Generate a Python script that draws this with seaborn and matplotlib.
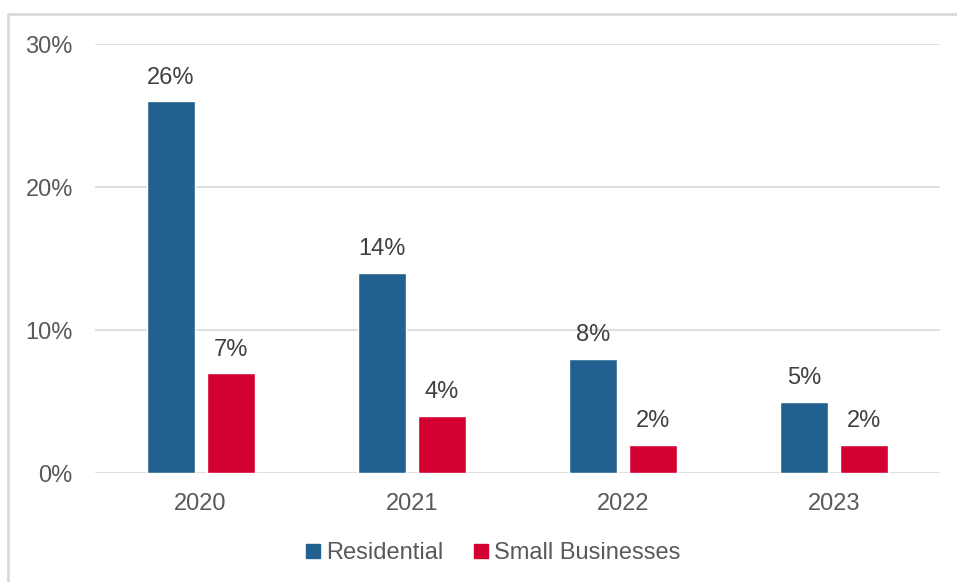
import pandas as pd
import matplotlib
matplotlib.use('Agg')
import matplotlib.pyplot as plt
import seaborn as sns
from matplotlib.lines import Line2D

years = ['2020', '2021', '2022', '2023']
residential = [26, 14, 8, 5]
small_business = [7, 4, 2, 2]
series = ['Residential', 'Small Businesses']
colors = ['#21608F', '#D50032']

df = pd.DataFrame({
    'year': years * 2,
    'value': residential + small_business,
    'series': [series[0]] * 4 + [series[1]] * 4,
})

sns.set_style('white')
plt.rcParams['font.family'] = ['Liberation Sans', 'DejaVu Sans']

fig = plt.figure(figsize=(9.57, 5.82), dpi=100)
ax = fig.add_axes([0.0993, 0.187, 0.8827, 0.737])

sns.barplot(data=df, x='year', y='value', hue='series', palette=colors,
            width=0.568, gap=0.2, ax=ax, legend=False, saturation=1)

for cont in ax.containers:
    ax.bar_label(cont, labels=[f'{v:.0f}%' for v in cont.datavalues],
                 padding=9, fontsize=17, color='#404040')

ax.set_ylim(0, 30)
ax.set_yticks([0, 10, 20, 30])
ax.set_yticklabels(['0%', '10%', '20%', '30%'])
ax.set_xlim(-0.5, 3.5)
ax.yaxis.grid(True, color='#D9D9D9', linewidth=1.2)
ax.set_axisbelow(True)
for s in ax.spines.values():
    s.set_visible(False)
ax.tick_params(axis='both', length=0, labelsize=17, labelcolor='#595959')
ax.tick_params(axis='y', pad=16)
ax.tick_params(axis='x', pad=14)
ax.set_xlabel('')
ax.set_ylabel('')

handles = [Line2D([], [], marker='s', linestyle='', markersize=9.5,
                  markerfacecolor=c, markeredgecolor=c) for c in colors]
fig.legend(handles, series, loc='center', bbox_to_anchor=(0.515, 0.05),
           ncol=2, frameon=False, fontsize=17, labelcolor='#595959',
           handletextpad=0.25, columnspacing=1.3, handlelength=0.6)

# outer chart border
fig.add_artist(Line2D([8 / 957, 8 / 957], [0, 1 - 14 / 582],
                      transform=fig.transFigure, color='#D9D9D9', linewidth=2))
fig.add_artist(Line2D([8 / 957, 1], [1 - 14 / 582, 1 - 14 / 582],
                      transform=fig.transFigure, color='#D9D9D9', linewidth=2))

fig.savefig('out.png', dpi=100)
